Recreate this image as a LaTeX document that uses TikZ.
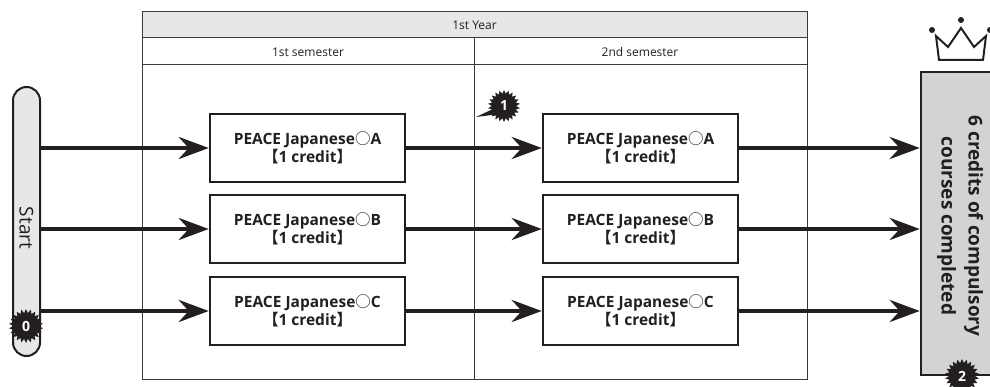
\documentclass[tikz,border=0pt]{standalone}
\usepackage{fontspec}
\setmainfont{Open Sans}
\newfontfamily\cjk{Noto Sans CJK JP}
\usetikzlibrary{arrows.meta,shapes.geometric}
\definecolor{ink}{HTML}{231F20}
\definecolor{rule}{HTML}{3A3A3A}
\definecolor{headfill}{HTML}{E6E7E8}
\definecolor{goalfill}{HTML}{D1D3D4}
\tikzset{
  coursebox/.style={draw=ink,line width=2.5pt,fill=white,minimum width=195pt,minimum height=68pt,
    align=center,font=\fontsize{15.5}{18}\selectfont\bfseries,text=ink,inner sep=0pt},
  flow/.style={draw=ink,line width=4.5pt,-{Stealth[length=30pt,width=22pt,inset=10pt]}},
  burst/.style={star,star points=22,star point ratio=1.3,fill=ink,minimum size=34pt,inner sep=0pt,
    text=white,font=\fontsize{14}{14}\selectfont\bfseries},
  tablerule/.style={draw=rule,line width=1pt},
  headtext/.style={font=\fontsize{12}{12}\selectfont,text=ink},
}
\begin{document}
\begin{tikzpicture}[x=1pt,y=-1pt]
\useasboundingbox (0,0) rectangle (990,387);
% table
\fill[headfill] (142,12) rectangle (807,38);
\draw[tablerule] (142,12) rectangle (807,379);
\draw[tablerule] (142,38) -- (807,38);
\draw[tablerule] (142,65) -- (807,65);
\draw[tablerule] (474,38) -- (474,379);
\node[headtext] (year) at (474.5,25) {1st Year};
\node[headtext] (sem1) at (308,52) {1st semester};
\node[headtext] (sem2) at (640,52) {2nd semester};
% start capsule
\node[draw=ink,line width=2pt,fill=headfill,rounded corners=13.5pt,rotate=-90,
  minimum width=269pt,minimum height=27pt,inner sep=0pt] (start) at (26.5,221.5) {};
\node[rotate=-90,font=\fontsize{19}{19}\selectfont,text=ink] (starttext) at (26.5,228) {Start};
% course boxes
\node[coursebox] (a1) at (307.5,148) {PEACE Japanese{\cjk\mdseries ○}A\\{\cjk 【}1 credit{\cjk 】}};
\node[coursebox] (b1) at (307.5,229) {PEACE Japanese{\cjk\mdseries ○}B\\{\cjk 【}1 credit{\cjk 】}};
\node[coursebox] (c1) at (307.5,311) {PEACE Japanese{\cjk\mdseries ○}C\\{\cjk 【}1 credit{\cjk 】}};
\node[coursebox] (a2) at (640.5,148) {PEACE Japanese{\cjk\mdseries ○}A\\{\cjk 【}1 credit{\cjk 】}};
\node[coursebox] (b2) at (640.5,229) {PEACE Japanese{\cjk\mdseries ○}B\\{\cjk 【}1 credit{\cjk 】}};
\node[coursebox] (c2) at (640.5,311) {PEACE Japanese{\cjk\mdseries ○}C\\{\cjk 【}1 credit{\cjk 】}};
% goal box
\node[draw=ink,line width=2.5pt,fill=goalfill,minimum width=80pt,minimum height=303pt,inner sep=0pt] (goal) at (961,223.5) {};
\node[rotate=-90,align=center,font=\fontsize{19}{27}\selectfont\bfseries,text=ink] (goaltext) at (960,226)
  {6 credits of compulsory\\courses completed};
% crown
\draw[ink,line width=2pt,line join=miter,fill=white] (939,60) -- (936,36) -- (948,47) -- (961,28) -- (974,47) -- (986,36) -- (983,60) -- cycle;
\fill[ink] (932,30) circle (3pt) (961,20) circle (3pt) (990,30) circle (3pt);
% flows
\foreach \r in {a,b,c}{
  \draw[flow] (start.north |- \r1.west) -- (\r1.west);
  \draw[flow] (\r1.east) -- (\r2.west);
  \draw[flow] (\r2.east) -- (goal.west |- \r2.east);
}
% bursts
\node[burst] (n0) at (26,326) {0};
\fill[ink] (495,108) -- (476,117) -- (500,114) -- cycle;
\node[burst,minimum size=32pt] (n1) at (504,106) {1};
\node[burst] (n2) at (962,376) {2};
\end{tikzpicture}
\end{document}
